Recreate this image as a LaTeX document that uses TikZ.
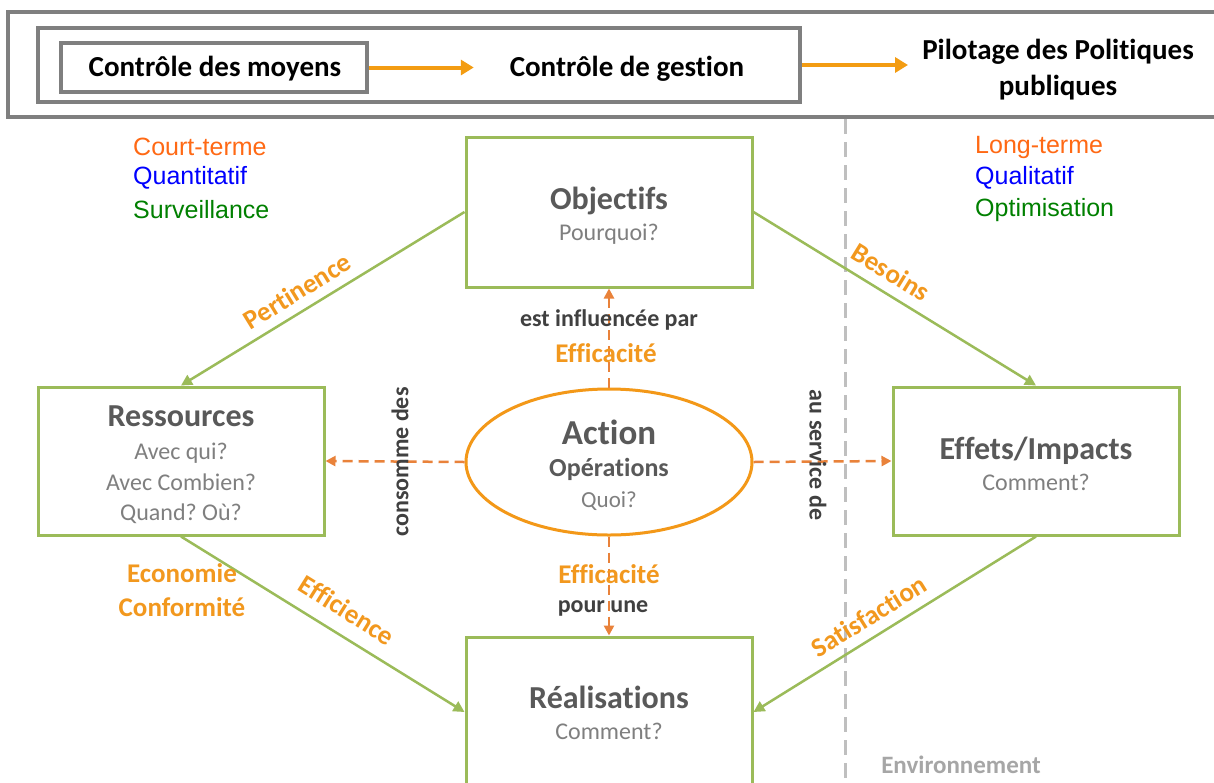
\documentclass[tikz,border=0pt]{standalone}
\usepackage{fontspec}
\setmainfont{Carlito}[Ligatures={NoCommon}]
\newfontfamily\arialf{Liberation Sans}
\usetikzlibrary{arrows.meta,shapes.geometric}
\definecolor{boxgreen}{RGB}{155,187,89}
\definecolor{titlegray}{RGB}{89,89,89}
\definecolor{subgray}{RGB}{127,127,127}
\definecolor{lblorange}{RGB}{242,152,30}
\definecolor{ellorange}{RGB}{243,152,24}
\definecolor{dashorange}{RGB}{233,130,58}
\definecolor{ctorange}{RGB}{255,105,20}
\definecolor{qblue}{RGB}{0,0,255}
\definecolor{sgreen}{RGB}{0,128,0}
\definecolor{darktext}{RGB}{64,64,64}
\definecolor{envgray}{RGB}{166,166,166}
\definecolor{dashgray}{RGB}{191,191,191}
\definecolor{bannergray}{RGB}{127,127,127}
\definecolor{bannerorange}{RGB}{243,156,18}
\newcommand{\titlef}{\fontsize{32}{32}\selectfont\bfseries\color{titlegray}}
\newcommand{\subf}{\fontsize{24}{32}\selectfont\mdseries\color{subgray}}
\newcommand{\bannerf}{\fontsize{29}{36}\selectfont\bfseries}
\frenchspacing
\begin{document}
\begin{tikzpicture}[x=1pt,y=-1pt,
  gbox/.style={draw=boxgreen, line width=3pt, minimum width=286pt, minimum height=148pt, inner sep=0pt, align=center, font=\subf},
  bannerbox/.style={draw=bannergray, line width=4pt, inner sep=0pt},
  barrow/.style={draw=bannerorange, line width=4pt, -{Triangle[length=13pt,width=15pt]}},
  garrow/.style={draw=boxgreen, line width=2.5pt, -{Triangle[length=11pt,width=11pt]}},
  oarrow/.style={draw=dashorange, line width=2.5pt, dash pattern=on 10pt off 6pt, -{Triangle[length=10pt,width=10pt]}},
  olabel/.style={font=\fontsize{27}{34}\selectfont\bfseries, text=lblorange, align=center, inner sep=0pt},
  dlabel/.style={font=\fontsize{24}{30}\selectfont\bfseries, text=darktext, inner sep=0pt},
  side/.style={font=\arialf\fontsize{25}{32}\selectfont, anchor=west, inner sep=0pt},
  vdash/.style={draw=dashgray, line width=3pt, dash pattern=on 15pt off 8pt}
]
\useasboundingbox (0,0) rectangle (1214,782);
\clip (0,0) rectangle (1214,782);
\fill[white] (0,0) rectangle (1214,782);

% banner
\draw[bannerbox] (8,12) rectangle (1240,117);
\node[bannerbox, minimum width=762pt, minimum height=74pt] (cg) at (419,65) {};
\node[bannerbox, line width=3.5pt, minimum width=306pt, minimum height=49pt] (moy) at (214,67.5) {};
\node[font=\bannerf, inner sep=0pt] (moyt) at (215,69) {Contrôle des moyens};
\node[font=\bannerf, inner sep=0pt] (ges) at (627,69) {Contrôle de gestion};
\node[font=\bannerf, align=center, inner sep=0pt] (pil) at (1058,70) {Pilotage des Politiques\\publiques};
\draw[barrow] (moy.east) -- ++(105,0);
\draw[barrow] (cg.east) -- ++(106,0);

% vertical dashed separator
\coordinate (vtop) at (845,119);
\coordinate (vbot) at (845,790);
\draw[vdash] (vtop) -- (vbot);

% side texts
\node[side, text=ctorange] (ct) at (133,147) {Court-terme};
\node[side, text=qblue] (qt) at (133,178) {Quantitatif};
\node[side, text=sgreen] (sv) at (133,210) {Surveillance};
\node[side, text=ctorange] (lt) at (975,147) {Long-terme};
\node[side, text=qblue] (ql) at (975,178) {Qualitatif};
\node[side, text=sgreen] (op) at (975,210) {Optimisation};

% boxes
\node[gbox, minimum height=150pt] (obj) at (609,212) {};
\node[align=center, font=\subf, inner sep=0pt] (objt) at (609,216) {{\titlef Objectifs}\\[-1pt]Pourquoi?};
\node[gbox] (res) at (181,461) {};
\node[align=center, font=\subf, inner sep=0pt] (rest) at (181,465) {{\titlef Ressources}\\[1pt]Avec qui?\\[-1pt]Avec Combien?\\[-2pt]Quand? Où?};
\node[gbox] (eff) at (1036,461) {};
\node[align=center, font=\subf, inner sep=0pt] (efft) at (1036,464) {{\titlef Effets/Impacts}\\[-1pt]Comment?};
\node[gbox, minimum height=150pt] (real) at (609,712) {};
\node[align=center, font=\subf, inner sep=0pt] (realt) at (609,713) {{\titlef Réalisations}\\[-1pt]Comment?};

% action ellipse
\node[ellipse, draw=ellorange, line width=3pt, minimum width=286pt, minimum height=146pt, inner sep=0pt] (act) at (609,462) {};
\node[align=center, inner sep=0pt, font=\fontsize{23}{33}\selectfont] (actt) at (609,465)
  {{\fontsize{35}{34}\selectfont\bfseries\color{titlegray}Action}\\[-1pt]{\fontsize{26}{30}\selectfont\bfseries\color{titlegray}Opérations}\\[-2pt]{\color{subgray}Quoi?}};

% green connectors
\draw[garrow] (obj.west) -- (res.north);
\draw[garrow] (obj.east) -- (eff.north);
\draw[garrow] (res.south) -- (real.west);
\draw[garrow] (eff.south) -- (real.east);

% orange dashed connectors
\draw[oarrow] (act.north) -- (obj.south);
\draw[oarrow] (act.south) -- (real.north);
\draw[oarrow] (act.west) -- (res.east);
\draw[oarrow] (act.east) -- (eff.west);

% labels
\node[olabel, rotate=31.6] (pert) at (297,291) {Pertinence};
\node[olabel, rotate=-31.6] (bes) at (891,272) {Besoins};
\node[olabel, rotate=-32] (effi) at (347,610) {Efficience};
\node[olabel, rotate=32] (sat) at (869,616) {Satisfaction};
\node[olabel] (eco) at (182,590) {Economie\\Conformité};
\node[dlabel] (infl) at (609,320) {est influencée par};
\node[olabel] (eff1) at (606,353) {Efficacité};
\node[olabel] (eff2) at (609,574) {Efficacité};
\node[dlabel] (pour) at (603,608) {pour une};
\node[dlabel, rotate=90] (cons) at (400,462) {consomme des};
\node[dlabel, rotate=-90] (serv) at (818,455) {au service de};
\node[font=\fontsize{25}{30}\selectfont\bfseries, text=envgray, inner sep=0pt] (env) at (961,765) {Environnement};
\end{tikzpicture}
\end{document}
